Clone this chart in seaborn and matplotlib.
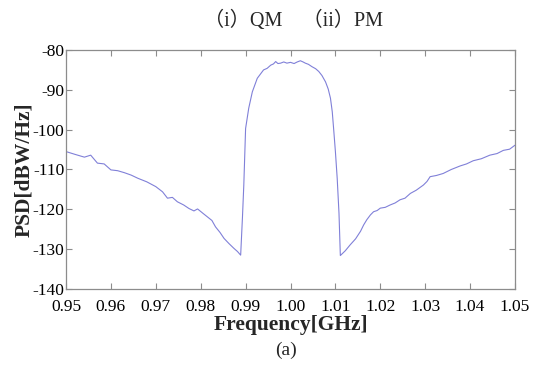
import numpy as np
import pandas as pd
import seaborn as sns
import matplotlib.pyplot as plt

# values (PSD of the QM/PM signal)
freq = [0.9500, 0.9520, 0.9541, 0.9555, 0.9570, 0.9585, 0.9600, 0.9615, 0.9630,
        0.9645, 0.9660, 0.9680, 0.9700, 0.9715, 0.9726, 0.9737, 0.9748, 0.9762,
        0.9774, 0.9785, 0.9793, 0.9805, 0.9815, 0.9825, 0.9833, 0.9843, 0.9852,
        0.9863, 0.9874, 0.9882, 0.9889, 0.9893, 0.9896, 0.9900, 0.9907, 0.9915,
        0.9926, 0.9940, 0.9948, 0.9956, 0.9962, 0.9967, 0.9972, 0.9978, 0.9985,
        0.9992, 1.0000, 1.0008, 1.0015, 1.0022, 1.0028, 1.0033, 1.0040, 1.0048,
        1.0056, 1.0063, 1.0070, 1.0078, 1.0084, 1.0089, 1.0093, 1.0096, 1.0100,
        1.0104, 1.0108, 1.0111, 1.0122, 1.0133, 1.0145, 1.0156, 1.0163, 1.0170,
        1.0178, 1.0185, 1.0193, 1.0200, 1.0211, 1.0222, 1.0233, 1.0244, 1.0255,
        1.0267, 1.0280, 1.0296, 1.0304, 1.0311, 1.0325, 1.0340, 1.0358, 1.0378,
        1.0392, 1.0407, 1.0425, 1.0444, 1.0460, 1.0474, 1.0488, 1.0500]
psd = [-105.5, -106.2, -106.9, -106.4, -108.4, -108.6, -110.1, -110.3, -110.8,
       -111.4, -112.2, -113.1, -114.3, -115.6, -117.2, -117.0, -118.1, -118.9,
       -119.8, -120.4, -119.9, -121.0, -121.9, -122.8, -124.4, -125.8, -127.3,
       -128.6, -129.8, -130.6, -131.5, -122.0, -113.9, -99.7, -94.6, -90.5,
       -87.1, -85.0, -84.6, -83.8, -83.5, -82.9, -83.4, -83.3, -83.0,
       -83.3, -83.1, -83.4, -83.0, -82.7, -83.0, -83.3, -83.6, -84.2,
       -84.7, -85.4, -86.4, -88.0, -89.8, -92.1, -95.5, -99.7, -105.5,
       -112.2, -121.0, -131.6, -130.4, -128.9, -127.4, -125.5, -123.9, -122.6,
       -121.4, -120.6, -120.3, -119.7, -119.5, -118.9, -118.4, -117.6, -117.2,
       -116.0, -115.2, -113.9, -113.0, -111.8, -111.5, -111.0, -110.0, -109.1,
       -108.6, -107.8, -107.3, -106.4, -106.0, -105.2, -104.9, -103.9]

xticks = [0.95, 0.96, 0.97, 0.98, 0.99, 1.00, 1.01, 1.02, 1.03, 1.04, 1.05]
yticks = [-140, -130, -120, -110, -100, -90, -80]

df = pd.DataFrame({'freq': freq, 'psd': psd})

sns.set_style("ticks")
plt.rcParams['font.family'] = ['Liberation Serif', 'Noto Sans CJK SC']
plt.rcParams['axes.edgecolor'] = '#8c8c8c'
plt.rcParams['xtick.color'] = '#8c8c8c'
plt.rcParams['ytick.color'] = '#8c8c8c'
plt.rcParams['xtick.labelcolor'] = 'black'
plt.rcParams['ytick.labelcolor'] = 'black'

fig = plt.figure(figsize=(5.34, 3.65), dpi=100)
ax = fig.add_axes([66/534, 1-289/365, 449/534, 239/365])

sns.lineplot(data=df, x='freq', y='psd', ax=ax, color='#8080d8', linewidth=0.8)

ax.set_xlim(0.95, 1.05)
ax.set_ylim(-140, -80)
ax.set_xticks(xticks)
ax.set_xticklabels(['%.2f' % t for t in xticks], fontsize=12.5)
ax.set_yticks(yticks)
ax.set_yticklabels([str(t) for t in yticks], fontsize=12.5)
ax.tick_params(direction='in', length=4, width=0.8, top=True, right=True)
ax.tick_params(axis='x', pad=7)
ax.tick_params(axis='y', pad=1)
for s in ax.spines.values():
    s.set_linewidth(0.9)

ax.set_xlabel('Frequency[GHz]', fontsize=15.5, fontweight='bold', labelpad=0)
ax.set_ylabel('PSD[dBW/Hz]', fontsize=15.5, fontweight='bold', labelpad=-1)

fig.text(294/534, 1-21/365, '（i）QM　（ii）PM', ha='center', va='center', fontsize=14.5)
fig.text(286/534, 1-350/365, '(a)', ha='center', va='center', fontsize=14)

fig.savefig('out.png', dpi=100)
